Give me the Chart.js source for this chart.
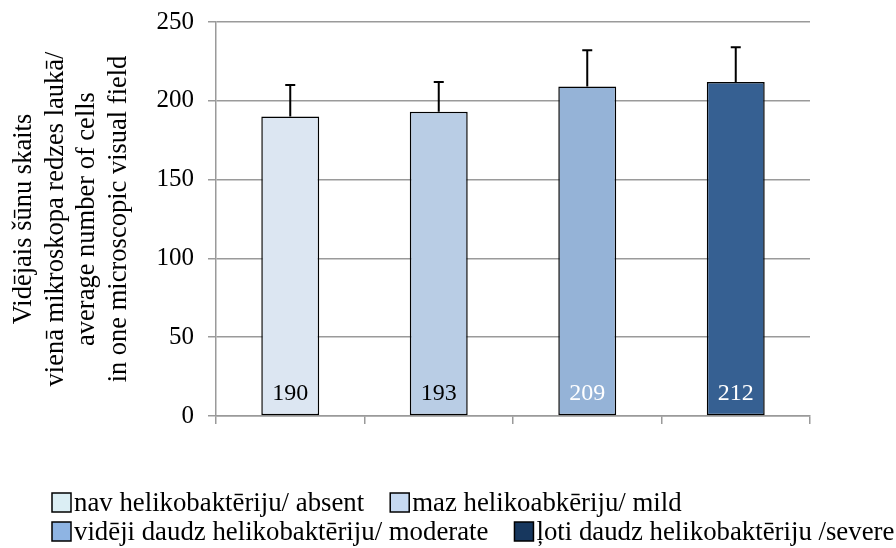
<!DOCTYPE html>
<html>
<head>
<meta charset="utf-8">
<script src="https://cdn.jsdelivr.net/npm/chart.js@4/dist/chart.umd.min.js"></script>
<style>
  html, body { margin: 0; padding: 0; background: #fff; }
  #wrap { width: 896px; height: 548px; }
</style>
</head>
<body>
<div id="wrap"><canvas id="chart"></canvas></div>
<script>
// Dati
const kategorijas = [
  'nav helikobaktēriju/ absent',
  'maz helikoabkēriju/ mild',
  'vidēji daudz helikobaktēriju/ moderate',
  'ļoti daudz helikobaktēriju /severe'
];
const vertibas = [190, 193, 209, 212];
const kludas = [20, 19, 23, 22];
const stabiņuKrasas = ['#dce6f2', '#b9cde5', '#95b3d7', '#366092'];
const legendasKrasas = ['#dbeef4', '#c6d9f1', '#8eb4e3', '#17375e'];
const etikesuKrasas = ['#000', '#000', '#fff', '#fff'];
const yTicks = [0, 50, 100, 150, 200, 250];
const yNosaukums = [
  'Vidējais šūnu skaits',
  'vienā mikroskopa redzes laukā/',
  'average number of cells',
  'in one microscopic visual field'
];

const FONT = "'Liberation Serif', 'Times New Roman', serif";
const pelēks = '#9a9a9a';

// Kļūdu stieņi + vērtības stabiņos
const kludasPlugin = {
  id: 'kludas',
  afterDatasetsDraw(chart) {
    const ctx = chart.ctx;
    const meta = chart.getDatasetMeta(0);
    const y = chart.scales.y;
    ctx.save();
    meta.data.forEach((bar, i) => {
      const top = y.getPixelForValue(vertibas[i] + kludas[i]);
      ctx.strokeStyle = '#000';
      ctx.lineWidth = 2;
      ctx.beginPath();
      ctx.moveTo(bar.x, bar.y);
      ctx.lineTo(bar.x, top);
      ctx.moveTo(bar.x - 5, top);
      ctx.lineTo(bar.x + 5, top);
      ctx.stroke();

      ctx.font = '24px ' + FONT;
      ctx.fillStyle = etikesuKrasas[i];
      ctx.textAlign = 'center';
      ctx.textBaseline = 'middle';
      ctx.fillText(String(vertibas[i]), bar.x, y.getPixelForValue(0) - 22);
    });
    ctx.restore();
  }
};

// Leģenda divās rindās
const legendaPlugin = {
  id: 'legenda',
  afterDraw(chart) {
    const ctx = chart.ctx;
    const rindas = [[0, 1], [2, 3]];
    const rindasY = [503, 532];
    ctx.save();
    ctx.font = '26.8px ' + FONT;
    ctx.textBaseline = 'middle';
    ctx.textAlign = 'left';
    rindas.forEach((rinda, r) => {
      let x = 52;
      const cy = rindasY[r];
      rinda.forEach(i => {
        ctx.fillStyle = legendasKrasas[i];
        ctx.fillRect(x, cy - 10, 19, 19);
        ctx.strokeStyle = '#000';
        ctx.lineWidth = 1.5;
        ctx.strokeRect(x, cy - 10, 19, 19);
        ctx.fillStyle = '#000';
        ctx.fillText(kategorijas[i], x + 22, cy + 1);
        x += 22 + ctx.measureText(kategorijas[i]).width + 26;
      });
    });
    ctx.restore();
  }
};

new Chart(document.getElementById('chart'), {
  type: 'bar',
  data: {
    labels: kategorijas.map(() => ''),
    datasets: [{
      data: vertibas,
      backgroundColor: stabiņuKrasas,
      borderColor: '#000',
      borderWidth: 1.5,
      borderSkipped: false,
      barPercentage: 0.39,
      categoryPercentage: 1
    }]
  },
  options: {
    responsive: true,
    maintainAspectRatio: false,
    animation: false,
    layout: { padding: { top: 22, right: 86, bottom: 124, left: 0 } },
    plugins: {
      legend: { display: false },
      tooltip: { enabled: false }
    },
    scales: {
      x: {
        ticks: { display: false },
        grid: { drawOnChartArea: false, color: pelēks, tickLength: 8, lineWidth: 1.5 },
        border: { color: pelēks, width: 1.5 },
        afterFit(scale) { scale.height = 8; }
      },
      y: {
        min: 0,
        max: 250,
        afterBuildTicks(scale) { scale.ticks = yTicks.map(v => ({ value: v })); },
        ticks: {
          color: '#000',
          padding: 14,
          font: { family: FONT, size: 25 }
        },
        grid: { color: pelēks, tickLength: 8, lineWidth: 1.5 },
        border: { color: pelēks, width: 1.5 },
        title: {
          display: true,
          text: yNosaukums,
          color: '#000',
          font: { family: FONT, size: 26.5, lineHeight: 1.2 },
          padding: { top: 8, bottom: 0 }
        },
        afterFit(scale) {
          scale.width = 216;
          scale.paddingTop = 0;
          scale.paddingBottom = 0;
        }
      }
    }
  },
  plugins: [kludasPlugin, legendaPlugin]
});
</script>
</body>
</html>
